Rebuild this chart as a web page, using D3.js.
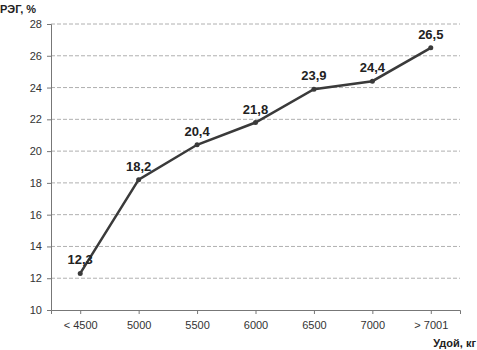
<!DOCTYPE html>
<html>
<head>
<meta charset="utf-8">
<script src="https://cdn.jsdelivr.net/npm/d3@7"></script>
<style>
  body { margin: 0; background: #fff; }
  text { font-family: "Liberation Sans", Arial, sans-serif; fill: #333; }
</style>
</head>
<body>
<svg id="chart" width="477" height="350"></svg>
<script>
const categories = ['< 4500', '5000', '5500', '6000', '6500', '7000', '> 7001']
const values = [12.3, 18.2, 20.4, 21.8, 23.9, 24.4, 26.5]
const yTicks = [10, 12, 14, 16, 18, 20, 22, 24, 26, 28]

const margin = { top: 24, right: 17, bottom: 40, left: 51 }
const width = 477 - margin.left - margin.right
const height = 350 - margin.top - margin.bottom

const svg = d3.select('#chart')
const g = svg.append('g')
    .attr('transform', `translate(${margin.left},${margin.top})`)

const x = d3.scalePoint().domain(categories).range([0, width]).padding(0.5)
const y = d3.scaleLinear().domain([10, 28]).range([height, 0])

// grid
g.selectAll('line.grid')
    .data(yTicks.slice(1))
    .enter().append('line')
    .attr('class', 'grid')
    .attr('x1', 0).attr('x2', width)
    .attr('y1', d => y(d)).attr('y2', d => y(d))
    .attr('stroke', '#b0b0b0')
    .attr('stroke-width', 1)
    .attr('stroke-dasharray', '4,2')

const yAxis = g.append('g')
    .call(d3.axisLeft(y).tickValues(yTicks).tickSize(4).tickPadding(5).tickFormat(d3.format('d')))
yAxis.select('.domain').attr('stroke', '#777')
yAxis.selectAll('.tick line').attr('stroke', '#777')
yAxis.selectAll('text').style('font-size', '11px').attr('fill', '#333')

const xAxis = g.append('g')
    .attr('transform', `translate(0,${height})`)
    .call(d3.axisBottom(x).tickSize(4).tickPadding(7).tickSizeOuter(4))
xAxis.select('.domain').attr('stroke', '#777')
xAxis.selectAll('.tick line').attr('stroke', '#777')
xAxis.selectAll('text').style('font-size', '11px').attr('fill', '#333')

const pts = categories.map((c, i) => ({ c: c, v: values[i] }))

g.append('path')
    .datum(pts)
    .attr('fill', 'none')
    .attr('stroke', '#3a3a3a')
    .attr('stroke-width', 2.5)
    .attr('d', d3.line().x(d => x(d.c)).y(d => y(d.v)))

g.selectAll('circle.pt')
    .data(pts)
    .enter().append('circle')
    .attr('class', 'pt')
    .attr('cx', d => x(d.c))
    .attr('cy', d => y(d.v))
    .attr('r', 2.5)
    .attr('fill', '#3a3a3a')

g.selectAll('text.val')
    .data(pts)
    .enter().append('text')
    .attr('class', 'val')
    .attr('x', d => x(d.c))
    .attr('y', d => y(d.v) - 9)
    .attr('text-anchor', 'middle')
    .style('font-size', '13px')
    .style('font-weight', 'bold')
    .style('fill', '#222')
    .text(d => String(d.v).replace('.', ','))

svg.append('text')
    .attr('x', 0).attr('y', 13)
    .style('font-size', '11px').style('font-weight', 'bold').style('fill', '#222')
    .text('РЭГ, %')

svg.append('text')
    .attr('x', 476).attr('y', 347)
    .attr('text-anchor', 'end')
    .style('font-size', '11px').style('font-weight', 'bold').style('fill', '#222')
    .text('Удой, кг')
</script>
</body>
</html>
